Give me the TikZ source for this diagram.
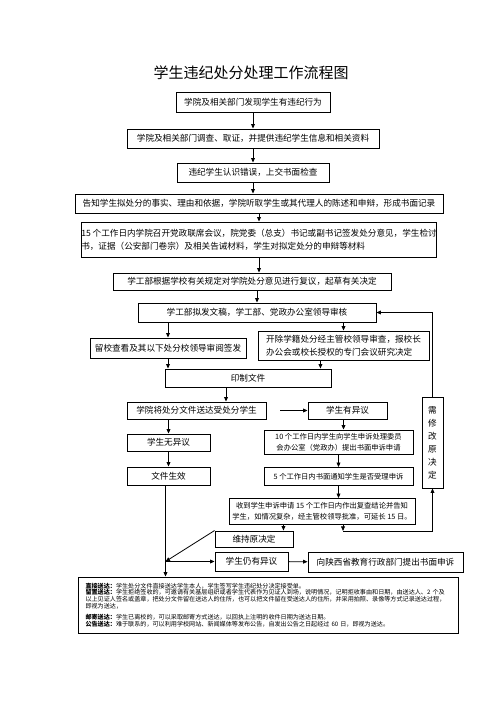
\documentclass[tikz,border=0pt]{standalone}
\usepackage{fontspec}
\setmainfont{Noto Sans CJK SC}
\usetikzlibrary{arrows.meta,calc}
\tikzstyle{box} = [draw, line width=0.9pt, inner sep=0pt, font=\fontsize{8.6}{13}\selectfont]
\tikzstyle{smallbox} = [box, font=\fontsize{7.3}{10.5}\selectfont]
\tikzstyle{flow} = [-{Triangle[length=4.5pt,width=3.8pt]}, line width=0.8pt]

\begin{document}
\begin{tikzpicture}[x=1pt,y=-1pt]
\useasboundingbox (0,0) rectangle (496,702);
\node[font=\fontsize{15}{15}\selectfont] (title) at (251,73) {学生违纪处分处理工作流程图};
% main chain
\node[box, minimum width=154pt, minimum height=20pt] (n1) at (253,102) {学院及相关部门发现学生有违纪行为};
\node[box, minimum width=252pt, minimum height=19pt] (n2) at (253,138.5) {学院及相关部门调查、取证，并提供违纪学生信息和相关资料};
\node[box, minimum width=152pt, minimum height=19pt] (n3) at (253,172.5) {违纪学生认识错误，上交书面检查};
\node[box, minimum width=368pt, minimum height=19pt] (n4) at (259,203.5) {告知学生拟处分的事实、理由和依据，学院听取学生或其代理人的陈述和申辩，形成书面记录};
\node[box, minimum width=348pt, minimum height=35pt, align=left] (n5) at (259,239.5) {15 个工作日内学院召开党政联席会议，院党委（总支）书记或副书记签发处分意见，学生检讨\\书，证据（公安部门卷宗）及相关告诫材料，学生对拟定处分的申辩等材料};
\node[box, minimum width=278pt, minimum height=17pt] (n6) at (252,281.5) {学工部根据学校有关规定对学院处分意见进行复议，起草有关决定};
\node[box, minimum width=238pt, minimum height=19pt] (n7) at (257,312.5) {学工部拟发文稿，学工部、党政办公室领导审核};
\node[box, minimum width=156pt, minimum height=20pt] (n8) at (168,348) {留校查看及其以下处分校领导审阅签发};
\node[box, minimum width=171pt, minimum height=29pt, align=left] (n9) at (343.5,345.5) {开除学籍处分经主管校领导审查，报校长\\办公会或校长授权的专门会议研究决定};
\node[box, minimum width=166pt, minimum height=18pt] (n10) at (248,378) {印制文件};
\node[box, minimum width=139pt, minimum height=17pt] (n11) at (196.5,410.5) {学院将处分文件送达受处分学生};
\node[box, minimum width=79pt, minimum height=17pt] (n12) at (347.5,410.5) {学生有异议};
\node[box, minimum width=83pt, minimum height=17pt] (n13) at (168.5,442.5) {学生无异议};
\node[box, minimum width=83pt, minimum height=18pt] (n14) at (168.5,476) {文件生效};
% appeal branch
\node[smallbox, minimum width=149pt, minimum height=24pt, align=center] (n15) at (338.5,442) {10 个工作日内学生向学生申诉处理委员\\会办公室（党政办）提出书面申诉申请};
\node[smallbox, minimum width=149pt, minimum height=18pt] (n16) at (338.5,476.5) {5 个工作日内书面通知学生是否受理申诉};
\node[smallbox, minimum width=186pt, minimum height=26pt, align=center] (n17) at (322,511.5) {收到学生申诉申请 15 个工作日内作出复查结论并告知\\学生，如情况复杂，经主管校领导批准，可延长 15 日。};
\node[box, minimum width=78pt, minimum height=16pt] (n18) at (254,539) {维持原决定};
\node[box, minimum width=73pt, minimum height=19pt] (n19) at (251.5,561.5) {学生仍有异议};
\node[box, minimum width=155pt, minimum height=20pt] (n20) at (385.5,562) {向陕西省教育行政部门提出书面申诉};
\node[box, minimum width=21pt, minimum height=91pt, align=center] (n21) at (432.5,442.5) {需\\修\\改\\原\\决\\定};
% delivery notes
\node[draw, line width=0.9pt, inner xsep=7.5pt, inner ysep=0pt, text width=365pt, minimum height=56pt, align=left, font=\fontsize{6.1}{6.6}\selectfont] (n22) at (268,605) {\textbf{直接送达：}学生处分文件直接送达学生本人，学生签写学生违纪处分决定接受单。\\
\textbf{留置送达：}学生拒绝签收的，可邀请有关基层组织或者学生代表作为见证人到场，说明情况，记明拒收事由和日期，由送达人、2 个及\\
以上见证人签名或盖章，把处分文件留在送达人的住所，也可以把文件留在受送达人的住所，并采用拍照、录像等方式记录送达过程，\\
即视为送达，\\[5pt]
\textbf{邮寄送达：}学生已离校的，可以采取邮寄方式送达，以回执上注明的收件日期为送达日期。\\
\textbf{公告送达：}难于联系的，可以利用学校网站、新闻媒体等发布公告，自发出公告之日起经过 60 日，即视为送达。};
% helper points
\coordinate (t10) at ([xshift=-22pt]n10.south);
\coordinate (t12) at ([xshift=-4pt]n12.south);
\coordinate (t9) at ([xshift=-11pt]n10.north east);
\coordinate (t17) at ([xshift=21pt]n17.south);
\coordinate (loop) at ([yshift=-6pt]t17);
\coordinate (t18) at ([xshift=-10pt]n18.north east);
\coordinate (trunk) at ([xshift=-3pt]n14.south);
\coordinate (jn) at (trunk |- n19.west);
% connectors
\draw[flow] (n1) -- (n2);
\draw[flow] (n2) -- (n3);
\draw[flow] (n3.south) -- (n3.south |- n4.north);
\draw[flow] (n4.south) -- (n4.south |- n5.north);
\draw[flow] (n5.south) -- (n5.south |- n6.north);
\draw[flow] (n7.north |- n6.south) -- (n7.north);
\draw[flow] (n8.north |- n7.south) -- (n8.north);
\draw[flow] (n9.north |- n7.south) -- (n9.north);
\draw[flow] (n8.south) -- (n8.south |- n10.north);
\draw[flow] (t9 |- n9.south) -- (t9);
\draw[flow] (t10) -- (t10 |- n11.north);
\draw[flow, shorten <=14pt] (n11.east) -- (n12.west);
\draw[flow] (n13.north |- n11.south) -- (n13.north);
\draw[flow] (n13) -- (n14);
\draw[flow] (t12) -- (t12 |- n15.north);
\draw[flow] (n15) -- (n16);
\draw[flow] (n16.south) -- (n16.south |- n17.north);
\draw[flow] (t18 |- n17.south) -- (t18);
\draw[flow] (t17) -- (loop);
\draw[flow] (loop) -| (n21.south);
\draw[flow] (n21.north) |- (n7.east);
\draw[line width=0.8pt] (trunk) -- (jn);
\draw[flow] (jn) -- (jn |- n22.north);
\draw[flow] (jn) -- (n19.west);
\draw[flow] (n18.north west) -- (jn);
\draw[flow] (n19) -- (n20);
\end{tikzpicture}
\end{document}
